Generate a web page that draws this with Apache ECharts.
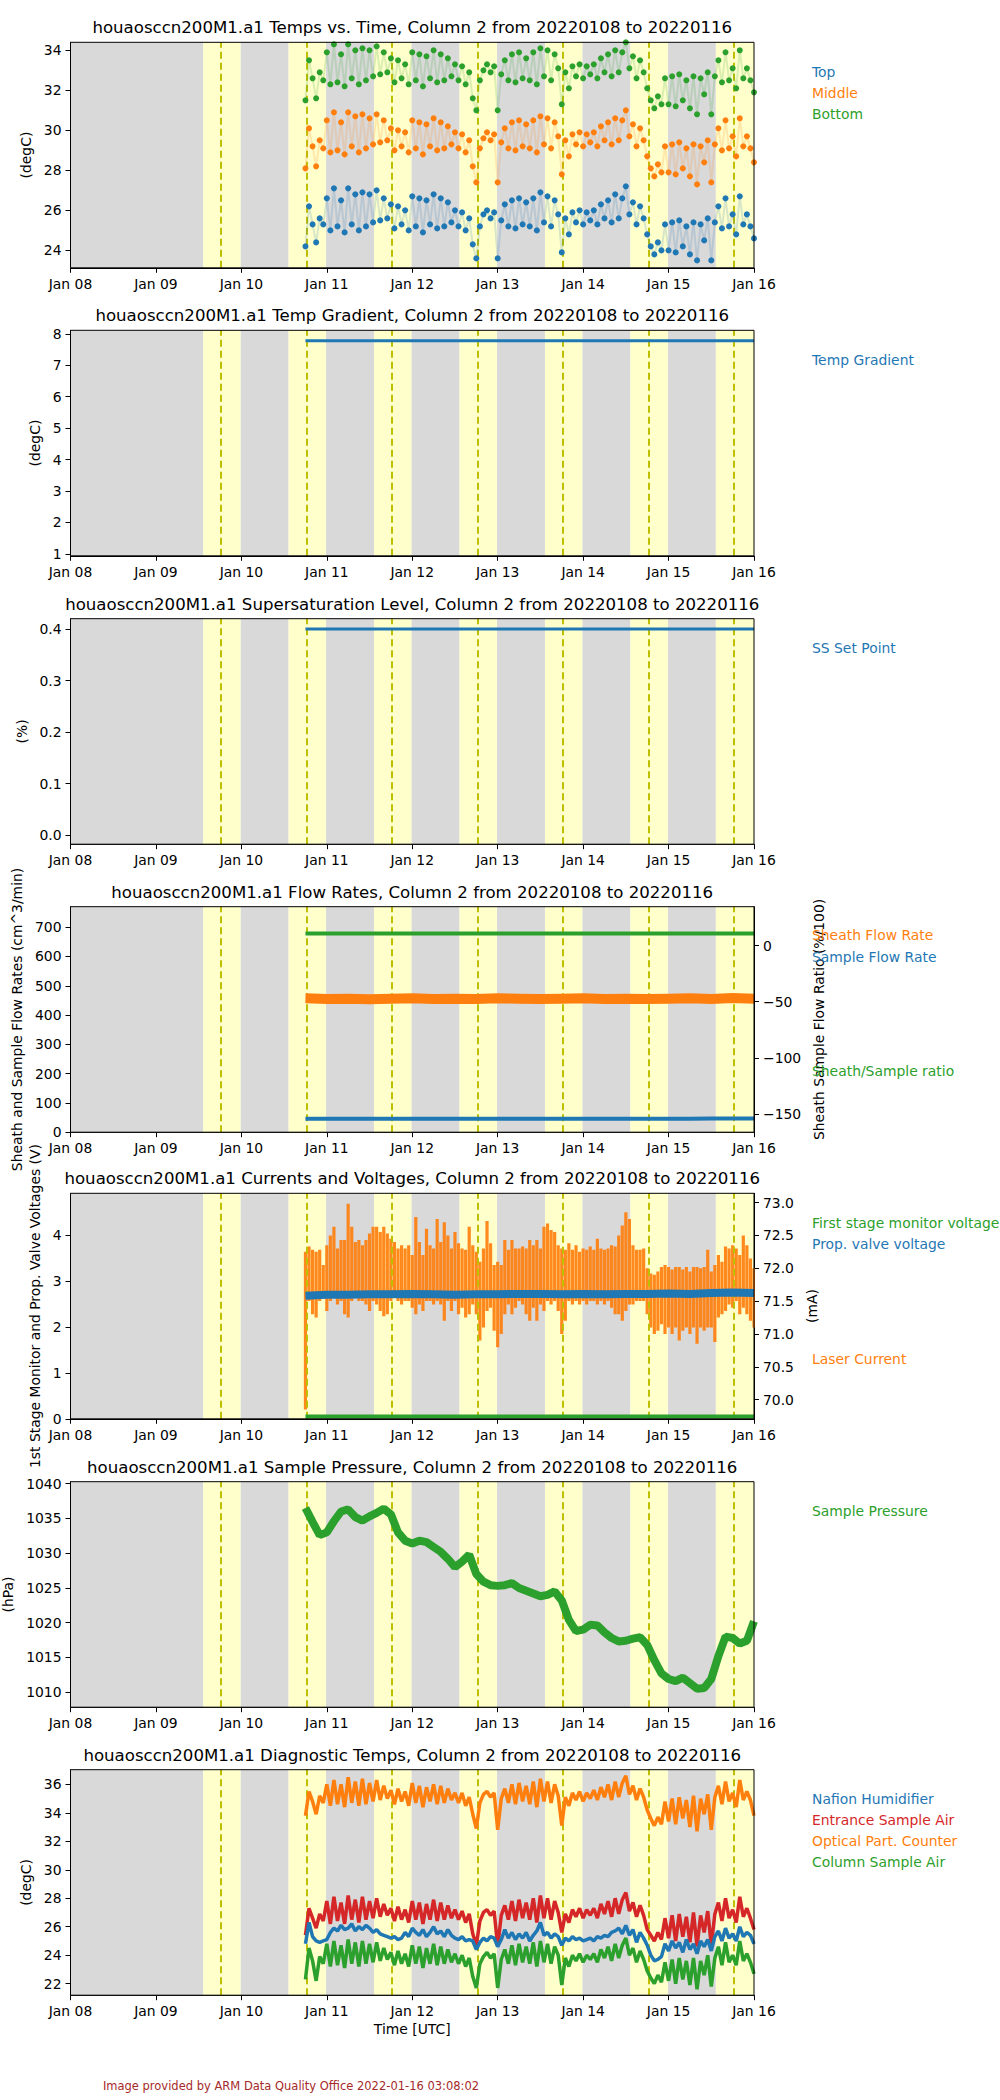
<!DOCTYPE html>
<html>
<head>
<meta charset="utf-8">
<script src="https://cdn.jsdelivr.net/npm/echarts@6/dist/echarts.min.js"></script>
<style>
html,body{margin:0;padding:0;background:#fff;}
#chart{width:1000px;height:2100px;}
</style>
</head>
<body>
<div id="chart"></div>
<script>
// ---------------- DATA ----------------
const START = Date.UTC(2022, 0, 10, 18);   // first sample (hourly series)
const END = Date.UTC(2022, 0, 16, 0);
const HOUR = 3600e3;

const xTickValues = ['2022-01-08','2022-01-09','2022-01-10','2022-01-11','2022-01-12','2022-01-13','2022-01-14','2022-01-15','2022-01-16'];
const xTickLabels = ['Jan 08','Jan 09','Jan 10','Jan 11','Jan 12','Jan 13','Jan 14','Jan 15','Jan 16'];

// background shading (night = grey, daylight = yellow, solar noon = dashed)
const nightBands = [['2022-01-08T00:00','2022-01-09T13:16'],['2022-01-09T23:45','2022-01-10T13:16'],['2022-01-10T23:45','2022-01-11T13:16'],
  ['2022-01-11T23:45','2022-01-12T13:17'],['2022-01-12T23:46','2022-01-13T13:17'],['2022-01-13T23:46','2022-01-14T13:17'],['2022-01-14T23:47','2022-01-15T13:17']];
const dayBands = [['2022-01-09T13:16','2022-01-09T23:45'],['2022-01-10T13:16','2022-01-10T23:45'],['2022-01-11T13:16','2022-01-11T23:45'],
  ['2022-01-12T13:17','2022-01-12T23:46'],['2022-01-13T13:17','2022-01-13T23:46'],['2022-01-14T13:17','2022-01-14T23:47'],['2022-01-15T13:17','2022-01-16T00:00']];
const noonLines = ['2022-01-09T18:20','2022-01-10T18:20','2022-01-11T18:20','2022-01-12T18:20','2022-01-13T18:21','2022-01-14T18:21','2022-01-15T18:21'];

// Panel 1: Temps vs. Time (hourly from 2022-01-10 18:00)
const tempTop = [24.2,26.2,25.3,24.4,25.6,25.3,26.6,25.0,27.1,25.2,
26.5,24.9,27.1,25.3,26.8,25.0,26.9,25.2,26.8,25.4,
27.0,25.5,26.6,25.6,26.3,25.1,26.2,25.3,26.0,25.0,
26.7,25.2,26.6,24.9,26.5,25.3,26.8,25.1,26.6,25.2,
26.4,25.4,26.0,25.2,25.9,25.0,25.6,24.3,23.6,25.2,
25.8,26.0,25.6,25.9,23.6,25.5,26.3,25.2,26.5,25.1,
26.6,25.3,26.4,25.2,26.6,25.0,26.9,25.4,26.7,25.2,
26.5,25.8,23.9,25.6,24.8,25.9,25.4,26.0,25.3,25.9,
25.5,26.0,25.3,26.3,25.6,26.5,25.4,26.8,25.6,26.6,
27.2,25.8,26.4,25.3,26.2,25.6,24.8,24.2,23.8,24.4,
24.0,25.3,24.0,25.4,23.9,25.5,24.2,25.2,23.8,25.4,
23.5,25.3,24.5,25.6,23.5,25.4,26.2,25.1,26.6,25.2,
25.8,24.8,26.7,25.3,25.8,25.2,24.6];
const tempMiddle = [28.1,30.1,29.2,28.2,29.5,29.1,30.5,28.9,30.9,29.0,
30.4,28.8,30.9,29.2,30.7,28.9,30.8,29.1,30.6,29.3,
30.8,29.4,30.5,29.5,30.1,29.0,30.0,29.2,29.9,28.9,
30.5,29.1,30.4,28.8,30.3,29.2,30.6,29.0,30.4,29.1,
30.2,29.3,29.9,29.1,29.8,28.9,29.5,28.2,27.4,29.1,
29.6,29.9,29.5,29.8,27.4,29.4,30.1,29.1,30.4,29.0,
30.5,29.2,30.3,29.1,30.5,28.9,30.7,29.3,30.6,29.1,
30.4,29.7,27.8,29.5,28.7,29.8,29.3,29.9,29.2,29.8,
29.4,29.9,29.2,30.2,29.5,30.4,29.3,30.6,29.5,30.5,
31.0,29.7,30.3,29.2,30.1,29.5,28.7,28.1,27.7,28.3,
27.9,29.2,27.9,29.3,27.8,29.4,28.1,29.1,27.7,29.3,
27.3,29.2,28.4,29.5,27.4,29.3,30.1,29.0,30.5,29.1,
29.7,28.7,30.6,29.2,29.7,29.1,28.4];
const tempBottom = [31.5,33.5,32.6,31.6,32.9,32.5,33.9,32.3,34.3,32.4,
33.8,32.2,34.3,32.6,34.0,32.3,34.1,32.5,34.0,32.7,
34.2,32.8,33.9,32.9,33.6,32.4,33.5,32.6,33.3,32.3,
33.9,32.5,33.8,32.2,33.7,32.6,34.0,32.4,33.8,32.5,
33.6,32.7,33.3,32.5,33.2,32.3,32.9,31.6,31.0,32.5,
33.0,33.3,32.9,33.2,31.0,32.8,33.5,32.5,33.8,32.4,
33.9,32.6,33.6,32.5,33.9,32.3,34.1,32.7,34.0,32.5,
33.8,33.1,31.3,32.9,32.1,33.2,32.7,33.3,32.6,33.2,
32.8,33.3,32.6,33.6,32.9,33.8,32.7,34.0,32.9,33.9,
34.4,33.1,33.7,32.6,33.5,32.9,32.1,31.5,31.1,31.7,
31.3,32.6,31.3,32.7,31.2,32.8,31.5,32.5,31.1,32.7,
30.8,32.6,31.8,32.9,30.8,32.7,33.5,32.4,33.9,32.5,
33.1,32.1,34.0,32.6,33.1,32.5,31.9];

// Panel 2 / 3: constant set points (start, end)
const flatTimes = [START, END];
const tempGradient = [7.78, 7.78];
const ssSetPoint = [0.40, 0.40];

// Panel 4: flow rates (6-hourly)
const sheathFlow = [457,455,456,454,456,457,455,456,455,457,456,455,456,457,455,456,455,456,457,455,458,456];
const sampleFlow = [46,46,46,46,46,46,46,46,46,46,46,46,46,46,46,46,46,46,46,47,47,47];
const flowRatio = [10.7, 10.7];

// Panel 5: currents and voltages
const propValveV = [2.68,2.70,2.70,2.71,2.71,2.72,2.71,2.70,2.71,2.71,2.72,2.72,2.71,2.72,2.71,2.72,2.72,2.73,2.72,2.74,2.75,2.74];
const firstStageV = [0.05, 0.05];
const laserHi = [72.25,72.33,72.28,72.25,72.28,72.05,72.35,72.5,72.63,72.3,
72.43,72.43,72.98,72.63,72.4,72.43,72.35,72.43,72.53,72.63,
72.63,72.55,72.63,72.53,72.45,72.4,72.3,72.35,72.3,72.35,
72.2,72.78,72.4,72.2,72.6,72.35,72.3,72.75,72.4,72.7,
72.5,72.3,72.55,72.38,72.3,72.28,72.63,72.35,72.25,72.1,
72.3,72.72,72.38,72.05,72.1,72.05,72.43,72.28,72.43,72.3,
72.3,72.33,72.3,72.43,72.35,72.43,72.3,72.63,72.68,72.58,
72.55,72.35,72.3,72.28,72.38,72.28,72.35,72.25,72.3,72.28,
72.33,72.28,72.45,72.3,72.28,72.3,72.35,72.33,72.5,72.65,
72.85,72.75,72.35,72.28,72.28,72.3,72.0,71.92,71.9,71.95,
72.02,72.05,72.02,71.98,72.02,72.02,71.98,72.02,71.95,72.02,
72.02,72.0,72.02,72.28,71.95,72.05,72.2,72.1,72.33,72.3,
72.35,72.3,72.2,72.5,72.35,72.15,72.0];
const laserLo = [69.85,71.5,71.3,71.25,71.5,71.55,71.35,71.5,71.55,71.45,
71.5,71.3,71.25,71.5,71.55,71.5,71.5,71.45,71.35,71.5,
71.45,71.35,71.27,71.3,71.5,71.55,71.5,71.45,71.5,71.5,
71.4,71.3,71.45,71.35,71.5,71.5,71.45,71.5,71.45,71.2,
71.5,71.35,71.5,71.3,71.4,71.25,71.3,71.45,71.3,70.9,
71.1,71.35,71.4,71.05,70.8,71.0,71.3,71.45,71.3,71.4,
71.5,71.45,71.3,71.2,71.4,71.2,71.45,71.35,71.5,71.45,
71.5,71.35,71.0,71.2,71.5,71.45,71.5,71.45,71.5,71.45,
71.5,71.5,71.45,71.5,71.45,71.5,71.4,71.3,71.3,71.2,
71.35,71.45,71.45,71.5,71.5,71.5,71.3,71.1,71.0,71.05,
71.15,71.0,71.1,71.0,71.1,70.9,71.05,71.1,71.0,71.1,
70.85,71.1,71.05,71.1,71.1,70.88,71.25,71.3,71.35,71.45,
71.4,71.5,71.3,71.4,71.3,71.2,71.1];

// Panel 6: sample pressure (2-hourly)
const samplePressure = [1036.5,1034.5,1032.6,1033.0,1034.6,1036.0,1036.3,1035.2,1034.7,1035.3,
1035.8,1036.4,1035.6,1033.0,1031.8,1031.4,1031.8,1031.6,1030.9,1030.2,
1029.2,1028.0,1028.8,1029.8,1027.0,1025.9,1025.4,1025.3,1025.4,1025.7,
1025.0,1024.6,1024.2,1023.8,1024.0,1024.5,1023.2,1020.4,1018.8,1019.0,
1019.7,1019.6,1018.6,1017.8,1017.3,1017.4,1017.7,1017.9,1016.8,1014.6,
1012.7,1011.9,1011.6,1012.1,1011.3,1010.5,1010.6,1011.9,1015.2,1018.0,
1017.8,1017.0,1017.4,1020.2];

// Panel 7: diagnostic temps (hourly)
const nafionHum = [24.8,26.3,25.3,25.0,24.9,25.0,25.1,25.6,25.9,25.7,
26.1,25.8,25.9,26.2,25.7,26.0,25.8,26.1,25.9,25.6,
25.8,25.5,25.4,25.3,25.2,25.3,25.1,25.2,25.6,25.3,
25.9,25.6,25.4,25.8,25.3,25.6,26.0,25.5,25.7,25.3,
25.8,25.4,25.2,25.1,25.3,25.0,25.1,25.0,24.4,24.9,
25.2,25.0,25.3,25.2,24.6,25.1,25.8,25.2,25.6,25.1,
25.5,25.2,25.6,25.0,25.4,25.7,26.3,25.4,25.6,25.2,
25.5,25.3,24.7,25.2,25.0,25.3,25.1,25.2,25.0,25.1,
25.2,25.0,25.3,25.2,25.4,25.3,25.6,25.7,25.9,25.5,
26.1,25.4,25.8,24.9,25.6,25.2,24.7,24.0,23.6,23.7,
23.9,24.8,24.3,25.0,24.5,24.9,24.2,25.1,24.4,24.8,
24.1,25.0,24.6,25.1,24.3,25.3,25.7,25.0,25.9,25.2,
25.5,25.0,26.0,25.3,25.6,25.4,24.8];
const entranceAir = [25.4,27.3,26.6,25.9,26.9,26.4,27.8,26.2,28.1,26.4,
27.7,26.2,28.2,26.5,27.9,26.3,28.1,26.5,27.8,26.6,
28.0,26.7,27.6,26.8,27.3,26.4,27.4,26.5,27.2,26.3,
27.8,26.5,27.7,26.2,27.6,26.5,27.9,26.4,27.7,26.5,
27.5,26.6,27.2,26.5,27.1,26.3,26.9,25.5,24.7,26.4,
27.0,27.2,26.8,27.1,24.6,26.8,27.5,26.5,27.8,26.4,
27.9,26.6,27.7,26.5,28.0,26.3,28.2,26.6,28.0,26.5,
27.8,27.0,25.6,26.9,26.3,27.2,26.7,27.3,26.6,27.2,
26.8,27.3,26.6,27.6,26.9,27.8,26.7,28.0,26.9,27.9,
28.4,27.1,27.7,26.7,27.5,26.8,25.8,25.4,25.0,25.6,
25.1,26.6,25.2,26.8,25.0,26.9,25.3,26.7,24.9,27.0,
24.6,26.8,25.6,27.1,24.7,26.9,27.7,26.4,28.0,26.6,
27.2,26.3,28.1,26.7,27.3,26.6,25.8];
const opcTemp = [33.8,35.5,34.8,33.9,35.2,34.7,36.0,34.5,36.3,34.6,
36.0,34.4,36.5,34.7,36.2,34.5,36.4,34.6,36.1,34.8,
36.3,34.9,35.9,35.0,35.6,34.6,35.7,34.8,35.5,34.5,
36.1,34.7,35.9,34.4,35.8,34.8,36.0,34.6,35.9,34.7,
35.7,34.9,35.4,34.7,35.4,34.5,35.1,33.9,32.9,34.7,
35.3,35.5,35.1,35.4,32.8,35.0,35.7,34.7,36.0,34.6,
36.1,34.8,35.9,34.6,36.2,34.4,36.4,34.8,36.2,34.7,
36.0,35.2,33.1,35.1,34.5,35.4,34.9,35.5,34.8,35.4,
35.0,35.6,34.9,35.8,35.1,36.0,34.9,36.2,35.1,36.1,
36.6,35.3,35.9,34.9,35.7,35.1,34.2,33.6,33.1,33.7,
33.2,34.8,33.4,35.0,33.2,35.1,33.6,34.9,33.0,35.2,
32.7,35.0,33.9,35.3,32.8,35.1,35.9,34.6,36.2,34.8,
35.4,34.4,36.3,34.9,35.5,34.9,33.8];
const columnAir = [22.3,24.5,23.6,22.2,23.9,23.4,24.8,23.2,25.0,23.3,
24.7,23.1,25.1,23.4,24.9,23.2,25.0,23.4,24.8,23.5,
24.9,23.6,24.5,23.7,24.2,23.3,24.3,23.4,24.1,23.2,
24.7,23.4,24.6,23.1,24.5,23.4,24.8,23.3,24.6,23.4,
24.4,23.5,24.1,23.4,24.0,23.2,23.8,22.5,21.7,23.4,
23.9,24.2,23.8,24.1,21.7,23.7,24.4,23.4,24.7,23.3,
24.8,23.5,24.6,23.4,24.9,23.2,25.0,23.5,24.8,23.4,
24.6,24.0,21.9,23.8,23.2,24.0,23.6,24.1,23.5,24.0,
23.7,24.1,23.5,24.4,23.8,24.6,23.6,24.8,23.8,24.7,
25.2,24.0,24.5,23.5,24.3,23.7,22.9,22.4,22.0,22.6,
22.1,23.5,22.2,23.7,22.0,23.8,22.3,23.6,21.9,23.8,
21.6,23.6,22.6,24.0,21.8,23.8,24.6,23.3,24.9,23.5,
24.0,23.3,25.0,23.6,24.1,23.5,22.7];

// y tick values
const yTicks = [
  [24,26,28,30,32,34],
  [1,2,3,4,5,6,7,8],
  [0,0.1,0.2,0.3,0.4],
  [0,100,200,300,400,500,600,700],
  [0,1,2,3,4],
  [1010,1015,1020,1025,1030,1035,1040],
  [22,24,26,28,30,32,34,36]
];
const yTicksFlowRight = [-150,-100,-50,0];
const yTicksLaser = [70.0,70.5,71.0,71.5,72.0,72.5,73.0];

// ---------------- LAYOUT ----------------
const C = {blue:'#1f77b4', orange:'#ff7f0e', green:'#2ca02c', red:'#d62728'};
const FONT = 'DejaVu Sans';
const GL = 70.5, GW = 683.5, GH = 225.5;
const tops = [42.3, 330.3, 618.7, 906.7, 1193.3, 1481.7, 1769.7];
const titles = ['Temps vs. Time','Temp Gradient','Supersaturation Level','Flow Rates','Currents and Voltages','Sample Pressure','Diagnostic Temps']
  .map(s => 'houaosccn200M1.a1 ' + s + ', Column 2 from 20220108 to 20220116');
const yRanges = [[23.13,34.4],[0.94,8.11],[-0.0176,0.42],[0,770],[0,4.91],[1007.84,1040.29],[21.19,37.03]];
const yNames = ['(degC)','(degC)','(%)','Sheath and Sample Flow Rates (cm^3/min)','1st Stage Monitor and Prop. Valve Voltages (V)','(hPa)','(degC)'];
const yNameGaps = [33, 25, 38, 42, 25, 50, 33];
const yFmt = [v=>String(v), v=>String(v), v=>v.toFixed(1), v=>String(v), v=>String(v), v=>String(v), v=>String(v)];

const toMs = s => new Date(s + (s.length <= 10 ? 'T00:00:00Z' : ':00Z')).getTime();
const xTickMs = xTickValues.map(toMs);
const hourly = arr => arr.map((v, i) => [START + i * HOUR, v]);
const stepped = (arr, h) => arr.map((v, i) => [Math.min(START + i * h * HOUR, END), v]);
const flat = arr => arr.map((v, i) => [flatTimes[i], v]);

const labelStyle = {color:'#000', fontSize:13.9, fontFamily:FONT};

const grids = tops.map(t => ({left:GL, top:t, width:GW, height:GH, containLabel:false, outerBoundsMode:'none'}));
const xAxes = tops.map((t, k) => ({
  type:'value', gridIndex:k, min:toMs('2022-01-08'), max:toMs('2022-01-16'),
  axisLine:{show:true, onZero:false, lineStyle:{color:'#000', width:1}},
  axisTick:{show:true, length:5, lineStyle:{color:'#000'}, customValues:xTickMs},
  axisLabel:Object.assign({margin:9, customValues:xTickMs, formatter:v => xTickLabels[xTickMs.indexOf(v)] || ''}, labelStyle),
  splitLine:{show:false},
  name: k === 6 ? 'Time [UTC]' : '', nameLocation:'middle', nameGap:27,
  nameTextStyle:labelStyle
}));
const yAxes = tops.map((t, k) => ({
  type:'value', gridIndex:k, position:'left', min:yRanges[k][0], max:yRanges[k][1],
  axisLine:{show:true, onZero:false, lineStyle:{color:'#000'}},
  axisTick:{show:true, length:5, lineStyle:{color:'#000'}, customValues:yTicks[k]},
  axisLabel:Object.assign({margin:9, customValues:yTicks[k], formatter:yFmt[k]}, labelStyle),
  splitLine:{show:false},
  name:yNames[k], nameLocation:'middle', nameRotate:90, nameGap:yNameGaps[k], nameTextStyle:labelStyle
}));
// right axes: 7 -> flow ratio (grid 3), 8 -> laser current (grid 4)
yAxes.push({
  type:'value', gridIndex:3, position:'right', min:-166, max:34.5,
  axisLine:{show:true, onZero:false, lineStyle:{color:'#000'}},
  axisTick:{show:true, length:5, lineStyle:{color:'#000'}, customValues:yTicksFlowRight},
  axisLabel:Object.assign({margin:9, customValues:yTicksFlowRight, formatter:v => String(v).replace('-', '\u2212')}, labelStyle),
  splitLine:{show:false},
  name:'Sheath Sample Flow Ratio (%/100)', nameLocation:'middle', nameRotate:90, nameGap:51, nameTextStyle:labelStyle
});
yAxes.push({
  type:'value', gridIndex:4, position:'right', min:69.71, max:73.14,
  axisLine:{show:true, onZero:false, lineStyle:{color:'#000'}},
  axisTick:{show:true, length:5, lineStyle:{color:'#000'}, customValues:yTicksLaser},
  axisLabel:Object.assign({margin:9, customValues:yTicksLaser, formatter:v => v.toFixed(1)}, labelStyle),
  splitLine:{show:false},
  name:'(mA)', nameLocation:'middle', nameRotate:90, nameGap:46, nameTextStyle:labelStyle
});

const series = [];
// backgrounds + noon lines
tops.forEach((t, k) => {
  const areas = nightBands.map(b => [{xAxis:toMs(b[0]), itemStyle:{color:'#d9d9d9'}}, {xAxis:toMs(b[1])}])
    .concat(dayBands.map(b => [{xAxis:toMs(b[0]), itemStyle:{color:'#ffffcc'}}, {xAxis:toMs(b[1])}]));
  series.push({type:'line', xAxisIndex:k, yAxisIndex:k, data:[], silent:true, z:0,
    markArea:{silent:true, data:areas, label:{show:false}, itemStyle:{opacity:1}}});
  series.push({type:'line', xAxisIndex:k, yAxisIndex:k, data:[], silent:true, z:20,
    markLine:{silent:true, symbol:['none','none'], label:{show:false}, animation:false,
      lineStyle:{color:'#bfbf00', width:2, type:[7,4]},
      data:noonLines.map(s => ({xAxis:toMs(s)}))}});
});

const dotted = (k, arr, color) => ({type:'line', xAxisIndex:k, yAxisIndex:k, data:hourly(arr),
  showSymbol:true, showAllSymbol:true, symbol:'circle', symbolSize:6, z:5,
  itemStyle:{color:color}, lineStyle:{color:color, width:2, opacity:0.18}, animation:false});
series.push(dotted(0, tempTop, C.blue), dotted(0, tempMiddle, C.orange), dotted(0, tempBottom, C.green));

const simple = (k, y, data, color, w, z) => ({type:'line', xAxisIndex:k, yAxisIndex:y, data:data,
  showSymbol:false, z:z || 5, lineStyle:{color:color, width:w}, itemStyle:{color:color}, animation:false});
series.push(simple(1, 1, flat(tempGradient), C.blue, 3));
series.push(simple(2, 2, flat(ssSetPoint), C.blue, 3));
series.push(simple(3, 3, stepped(sheathFlow, 6), C.orange, 10));
series.push(simple(3, 3, stepped(sampleFlow, 6), C.blue, 4));
series.push(simple(3, 7, flat(flowRatio), C.green, 4));

// laser current: hourly range bars on the right axis
series.push({type:'custom', xAxisIndex:4, yAxisIndex:8, clip:true, z:3, animation:false,
  data:laserLo.map((v, i) => [START + i * HOUR, v, laserHi[i]]),
  encode:{x:0, y:[1,2]},
  renderItem:(params, api) => {
    const lo = api.coord([api.value(0), api.value(1)]);
    const hi = api.coord([api.value(0), api.value(2)]);
    return {type:'rect', shape:{x:hi[0]-1.6, y:hi[1], width:3.2, height:lo[1]-hi[1]},
      style:{fill:C.orange, opacity:0.92}};
  }});
series.push(simple(4, 4, stepped(propValveV, 6), C.blue, 8, 6));
series.push(simple(4, 4, flat(firstStageV), C.green, 4, 6));

series.push(simple(5, 5, stepped(samplePressure, 2), C.green, 8));

series.push(simple(6, 6, hourly(opcTemp), C.orange, 3.5));
series.push(simple(6, 6, hourly(entranceAir), C.red, 3.5));
series.push(simple(6, 6, hourly(nafionHum), C.blue, 3.5));
series.push(simple(6, 6, hourly(columnAir), C.green, 3.5));

// ---------------- TEXT / FRAMES ----------------
const graphics = [];
tops.forEach((t, k) => {
  graphics.push({type:'rect', z:100, silent:true, shape:{x:GL, y:t, width:GW, height:GH},
    style:{fill:'none', stroke:'#000', lineWidth:1}});
  graphics.push({type:'text', z:100, x:GL + GW/2, y:t - 14.5,
    style:{text:titles[k], fill:'#000', font:'16.6px "DejaVu Sans"', textAlign:'center', textVerticalAlign:'middle'}});
});
const legends = [
  ['Top', C.blue, 72], ['Middle', C.orange, 93], ['Bottom', C.green, 114],
  ['Temp Gradient', C.blue, 360],
  ['SS Set Point', C.blue, 648],
  ['Sheath Flow Rate', C.orange, 935], ['Sample Flow Rate', C.blue, 957], ['Sheath/Sample ratio', C.green, 1071],
  ['First stage monitor voltage', C.green, 1223], ['Prop. valve voltage', C.blue, 1244], ['Laser Current', C.orange, 1359],
  ['Sample Pressure', C.green, 1511],
  ['Nafion Humidifier', C.blue, 1799], ['Entrance Sample Air', C.red, 1820], ['Optical Part. Counter', C.orange, 1841], ['Column Sample Air', C.green, 1862]
];
legends.forEach(l => graphics.push({type:'text', z:100, x:812, y:l[2],
  style:{text:l[0], fill:l[1], font:'13.9px "DejaVu Sans"', textAlign:'left', textVerticalAlign:'middle'}}));
graphics.push({type:'text', z:100, x:291, y:2086,
  style:{text:'Image provided by ARM Data Quality Office 2022-01-16 03:08:02', fill:'#a52a2a', font:'11.5px "DejaVu Sans"', textAlign:'center', textVerticalAlign:'middle'}});

const chart = echarts.init(document.getElementById('chart'), null, {renderer:'svg', width:1000, height:2100});
chart.setOption({
  animation:false,
  backgroundColor:'#fff',
  textStyle:{fontFamily:FONT},
  grid:grids, xAxis:xAxes, yAxis:yAxes, series:series, graphic:graphics
});
</script>
</body>
</html>
